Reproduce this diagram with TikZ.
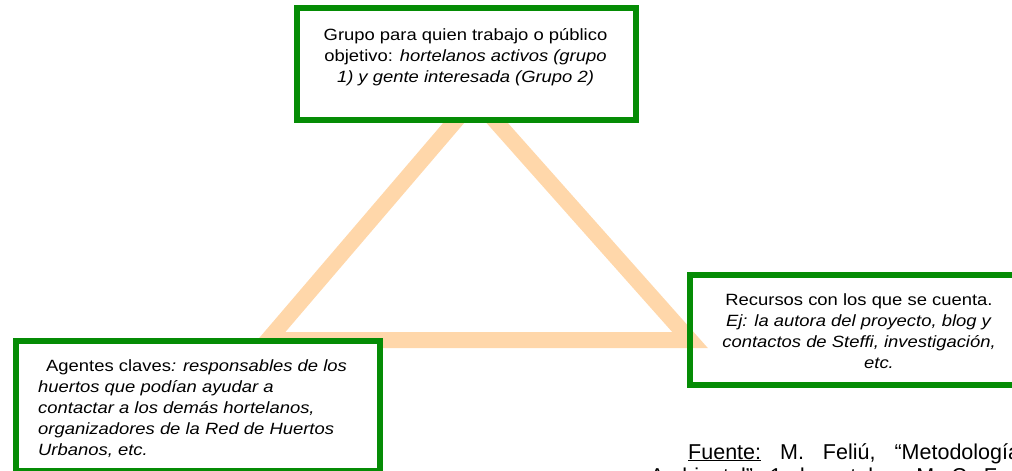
\documentclass[tikz,border=0pt]{standalone}
\usepackage{fontspec}
\setmainfont{Liberation Sans}[FakeStretch=1.13]
\newfontfamily\fuentefont{Liberation Sans}
\definecolor{verdecaja}{RGB}{5,140,5}
\definecolor{melocoton}{RGB}{255,215,170}
\tikzset{
  caja/.style={draw=verdecaja, line width=6pt, inner sep=0pt},
  texto/.style={inner sep=0pt, font=\fontsize{16.3}{21}\selectfont},
  fuentetxt/.style={inner sep=0pt, font=\fuentefont\fontsize{21.5}{24}\selectfont},
}

\begin{document}
\begin{tikzpicture}[x=1pt,y=-1pt]
        \useasboundingbox (0,0) rectangle (1012,471);
        \coordinate (vgrupo) at (475,98);
        \coordinate (vagentes) at (268,340);
        \coordinate (vrecursos) at (690,340);
        \draw[melocoton, line width=16pt] (vgrupo) -- (vrecursos) -- (vagentes) -- cycle;
        \node[caja, fill=white, minimum width=339pt, minimum height=112pt] (grupo) at (466.5,64) {};
        \node[caja, fill=white, minimum width=364pt, minimum height=130pt] (agentes) at (198,406) {};
        \node[caja, minimum width=326pt, minimum height=110.5pt] (recursos) at (853,329.75) {};
        \node[texto, align=center, anchor=north] (grupotxt) at (465.5,28)
            {Grupo para quien trabajo o público\\ objetivo: \emph{hortelanos activos (grupo}\\ \emph{1) y gente interesada (Grupo 2)}};
        \node[texto, align=left, anchor=north west] (agentestxt) at (38,359)
            {\hspace*{8pt}Agentes claves\emph{: responsables de los}\\ \emph{huertos que podían ayudar a}\\ \emph{contactar a los demás hortelanos,}\\ \emph{organizadores de la Red de Huertos}\\ \emph{Urbanos, etc.}};
        \node[texto, align=center, anchor=north] (recursostxt) at (859,293)
            {Recursos con los que se cuenta.\\ \emph{Ej: la autora del proyecto, blog y}\\ \emph{contactos de Steffi, investigación,}\\ \hspace*{40pt}\emph{etc.}};
        \node[fuentetxt, anchor=base west] (fuente) at (688,459)
            {\spaceskip=19pt \underline{Fuente:} M. Feliú, “Metodología};
        \node[fuentetxt, anchor=base west] (fuente2) at (650,483)
            {\spaceskip=11pt Ambiental”, 1 de octubre, M. C. F. Andrés};
\end{tikzpicture}
\end{document}
